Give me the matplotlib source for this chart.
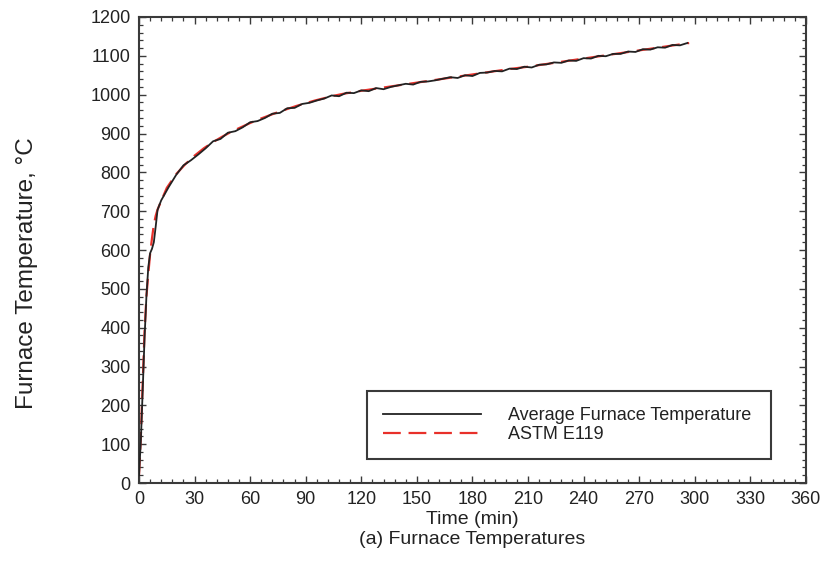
import matplotlib
matplotlib.use("Agg")
import matplotlib.pyplot as plt
from matplotlib.ticker import MultipleLocator

plt.rcParams['font.family'] = ['Liberation Sans', 'DejaVu Sans']

# ASTM E119 standard curve (min, degC)
astm_t = [0, 1, 2, 3, 4, 5, 6, 7, 8, 9, 10, 15, 20, 25, 30, 35, 40, 45, 50, 55, 60,
          65, 70, 75, 80, 85, 90, 95, 100, 105, 110, 115, 120, 130, 140, 150, 160,
          170, 180, 190, 200, 210, 220, 230, 240, 250, 260, 270, 280, 290, 297]
astm_T = [20, 120, 260, 390, 480, 538, 590, 630, 665, 688, 704, 760, 795, 821, 843,
          862, 878, 892, 905, 916, 927, 937, 946, 955, 963, 971, 978, 985, 991, 997,
          1002, 1006, 1010, 1017, 1024, 1031, 1038, 1045, 1052, 1059, 1066, 1072,
          1079, 1086, 1093, 1100, 1107, 1114, 1121, 1128, 1133]

# Average furnace temperature (min, degC)
avg_t = [0, 1, 2, 3, 4, 5, 6, 7, 8, 9, 10, 11,
         12, 16, 20, 24, 28, 32, 36, 40, 44, 48, 52, 56, 60, 64, 68, 72, 76, 80,
         84, 88, 92, 96, 100, 104, 108, 112, 116, 120, 124, 128, 132, 136, 140,
         144, 148, 152, 156, 160, 164, 168, 172, 176, 180, 184, 188, 192, 196,
         200, 204, 208, 212, 216, 220, 224, 228, 232, 236, 240, 244, 248, 252,
         256, 260, 264, 268, 272, 276, 280, 284, 288, 292, 296]
avg_T = [20, 110, 240, 375, 480, 555, 592, 603, 620, 660, 703, 716,
         728, 762, 793, 818, 831, 846, 862, 880, 886, 902, 906, 916, 929, 932,
         940, 951, 953, 965, 966, 976, 979, 985, 990, 998, 996, 1005, 1004, 1011,
         1009, 1017, 1014, 1020, 1024, 1028, 1026, 1033, 1034, 1037, 1041, 1045,
         1043, 1050, 1048, 1056, 1057, 1061, 1060, 1067, 1066, 1072, 1070, 1077,
         1078, 1083, 1082, 1088, 1087, 1094, 1093, 1100, 1099, 1105, 1105, 1111,
         1110, 1117, 1116, 1122, 1121, 1128, 1127, 1133]

axis_col = '#3a3a3a'

fig = plt.figure(figsize=(8.24, 5.8), dpi=100)
ax = fig.add_axes([0.1687, 0.1672, 0.8093, 0.8035])

ax.plot(avg_t, avg_T, color='#222222', lw=1.3, label='Average Furnace Temperature', zorder=3)
ax.plot(astm_t, astm_T, color='#e8302a', lw=1.6, dashes=(8, 3.5),
        label='ASTM E119', zorder=2)

ax.set_xlim(0, 360)
ax.set_ylim(0, 1200)
ax.xaxis.set_major_locator(MultipleLocator(30))
ax.xaxis.set_minor_locator(MultipleLocator(6))
ax.yaxis.set_major_locator(MultipleLocator(100))
ax.yaxis.set_minor_locator(MultipleLocator(20))
ax.tick_params(which='both', direction='in', top=True, right=True, color=axis_col,
               labelcolor='#222222')
ax.tick_params(which='major', length=5, width=1.0, labelsize=13, pad=6)
ax.tick_params(which='minor', length=3, width=0.9)
for s in ax.spines.values():
    s.set_color(axis_col)
    s.set_linewidth(1.5)

ax.set_xlabel('Time (min)', fontsize=14, color='#222222', labelpad=2)
ax.set_ylabel('Furnace Temperature, \u00b0C', fontsize=17.5, color='#222222')
ax.yaxis.set_label_coords(-0.152, 0.45)
fig.text(0.573, 0.069, '(a) Furnace Temperatures', ha='center', va='center',
         fontsize=14, color='#222222')

leg = ax.legend(loc='center', bbox_to_anchor=(0.342, 0.049, 0.6055, 0.1506),
                mode='expand', fontsize=13, handlelength=5.4, handletextpad=1.5,
                borderpad=0.9, labelspacing=0.1, fancybox=False, framealpha=1,
                borderaxespad=0)
leg.get_frame().set_edgecolor(axis_col)
leg.get_frame().set_linewidth(1.5)
for t in leg.get_texts():
    t.set_color('#222222')

fig.savefig('out.png', dpi=100)
